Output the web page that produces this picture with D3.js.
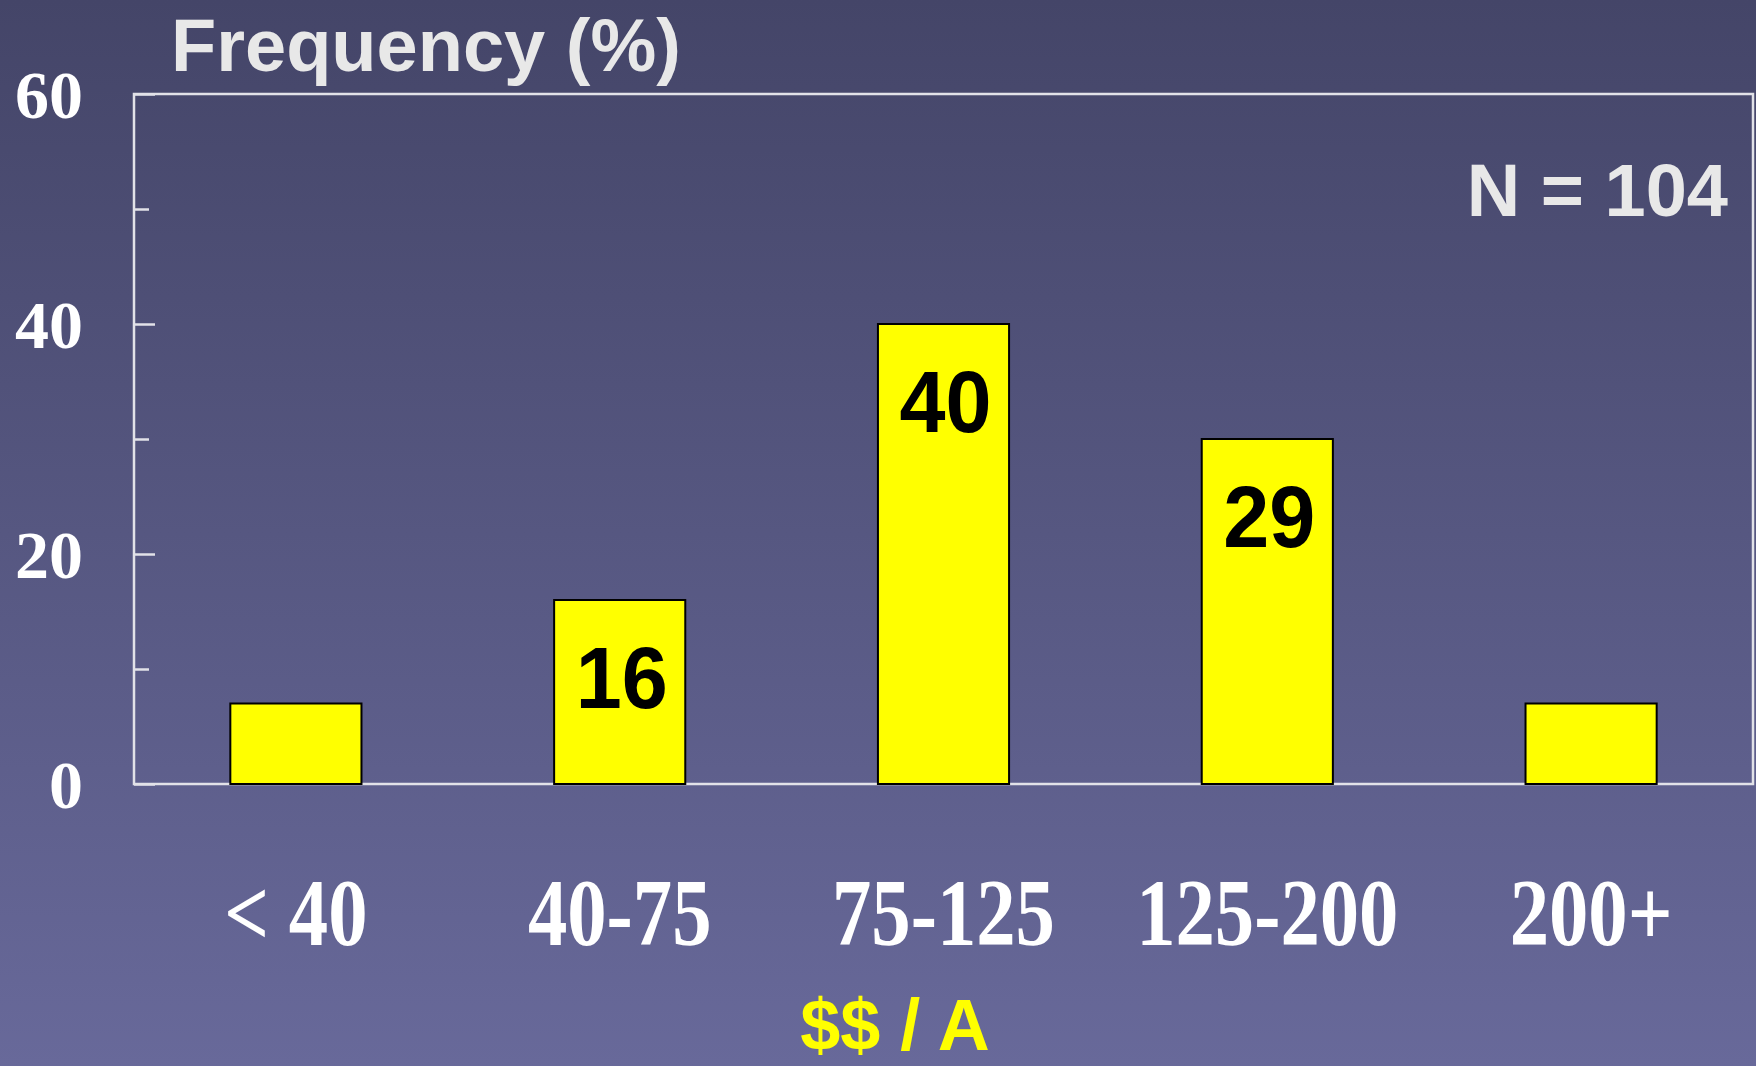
<!DOCTYPE html>
<html>
<head>
<meta charset="utf-8">
<script src="https://cdn.jsdelivr.net/npm/d3@7"></script>
<style>
	html, body { margin: 0; padding: 0; overflow: hidden; }
	svg { display: block; }
</style>
</head>
<body>
<svg id="chart" width="1756" height="1066"></svg>
<script>
let categories = ["< 40", "40-75", "75-125", "125-200", "200+"];
let values = [7, 16, 40, 30, 7];
let valueLabels = ["", "16", "40", "29", ""];
let majorTicks = [0, 20, 40, 60];
let minorTicks = [10, 30, 50];

let width = 1756;
let height = 1066;
let margin = { top: 94, right: 3, bottom: 282, left: 134 };

let svg = d3.select("#chart");

// background gradient
let defs = svg.append("defs");
let grad = defs.append("linearGradient")
	.attr("id", "bg")
	.attr("x1", 0).attr("y1", 0)
	.attr("x2", 0).attr("y2", 1);
grad.append("stop").attr("offset", "0%").attr("stop-color", "#444568");
grad.append("stop").attr("offset", "100%").attr("stop-color", "#68699a");

svg.append("rect")
	.attr("width", width)
	.attr("height", height)
	.attr("fill", "url(#bg)");

let x = d3.scaleBand()
	.domain(categories)
	.range([margin.left, width - margin.right])
	.paddingInner(0.595)
	.paddingOuter(0.2975);

let y = d3.scaleLinear()
	.domain([0, 60])
	.range([height - margin.bottom, margin.top]);

let axisColor = "#e2e2e8";

// plot frame
svg.append("rect")
	.attr("x", margin.left)
	.attr("y", margin.top)
	.attr("width", width - margin.left - margin.right)
	.attr("height", height - margin.top - margin.bottom)
	.attr("fill", "none")
	.attr("stroke", axisColor)
	.attr("stroke-width", 2.5);

// bars
svg.append("g")
	.selectAll("rect")
	.data(values)
	.join("rect")
	.attr("x", (d, i) => x(categories[i]))
	.attr("y", d => y(d))
	.attr("width", x.bandwidth())
	.attr("height", d => y(0) - y(d))
	.attr("fill", "#ffff00")
	.attr("stroke", "#000")
	.attr("stroke-width", 2);

// value labels inside bars
svg.append("g")
	.selectAll("text")
	.data(values)
	.join("text")
	.attr("transform", (d, i) => `translate(${x(categories[i]) + x.bandwidth() / 2 + 2},${y(d) + 108}) scale(0.94,1)`)
	.attr("text-anchor", "middle")
	.attr("font-family", "Liberation Sans, Arial, sans-serif")
	.attr("font-weight", "bold")
	.attr("font-size", 88)
	.attr("fill", "#000")
	.text((d, i) => valueLabels[i]);

// y axis, major ticks with labels
let yAxis = svg.append("g")
	.attr("transform", `translate(${margin.left},0)`)
	.call(d3.axisLeft(y).tickValues(majorTicks).tickSize(-21).tickPadding(51));
yAxis.select(".domain").remove();
yAxis.selectAll("line").attr("stroke", axisColor).attr("stroke-width", 2.5);
yAxis.selectAll("text")
	.attr("fill", "#fff")
	.attr("font-family", "Liberation Serif, Times New Roman, serif")
	.attr("font-weight", "bold")
	.attr("font-size", 68)
	.attr("dy", "0.34em");

// y axis, minor ticks
let yMinor = svg.append("g")
	.attr("transform", `translate(${margin.left},0)`)
	.call(d3.axisLeft(y).tickValues(minorTicks).tickSize(-15).tickFormat(""));
yMinor.select(".domain").remove();
yMinor.selectAll("line").attr("stroke", axisColor).attr("stroke-width", 2.5);

// x category labels (narrow serif)
svg.append("g")
	.selectAll("text")
	.data(categories)
	.join("text")
	.attr("transform", d => `translate(${x(d) + x.bandwidth() / 2},945) scale(0.82,1)`)
	.attr("text-anchor", "middle")
	.attr("font-family", "Liberation Serif, Times New Roman, serif")
	.attr("font-weight", "bold")
	.attr("font-size", 96)
	.attr("fill", "#fff")
	.text(d => d);

// titles
svg.append("text")
	.attr("x", 171)
	.attr("y", 71)
	.attr("font-family", "Liberation Sans, Arial, sans-serif")
	.attr("font-weight", "bold")
	.attr("font-size", 74)
	.attr("fill", "#e8e8e8")
	.text("Frequency (%)");

svg.append("text")
	.attr("x", 1728)
	.attr("y", 216)
	.attr("text-anchor", "end")
	.attr("font-family", "Liberation Sans, Arial, sans-serif")
	.attr("font-weight", "bold")
	.attr("font-size", 74)
	.attr("fill", "#e8e8e8")
	.text("N = 104");

svg.append("text")
	.attr("x", 895)
	.attr("y", 1050)
	.attr("text-anchor", "middle")
	.attr("font-family", "Liberation Sans, Arial, sans-serif")
	.attr("font-weight", "bold")
	.attr("font-size", 72)
	.attr("fill", "#ffff00")
	.text("$$ / A");
</script>
</body>
</html>
